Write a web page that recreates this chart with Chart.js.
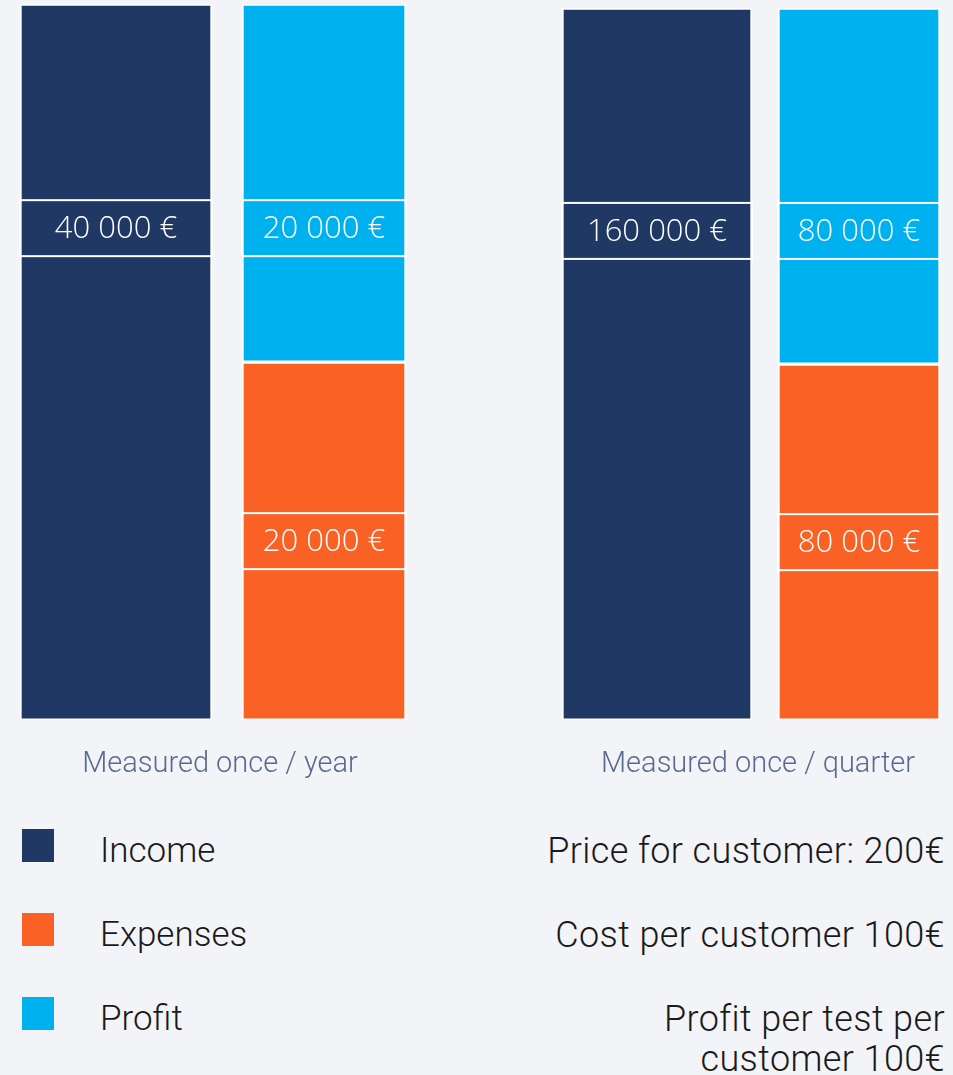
<!DOCTYPE html>
<html>
<head>
<meta charset="utf-8">
<script src="https://cdn.jsdelivr.net/npm/chart.js@4.4.1/dist/chart.umd.min.js"></script>
<style>
  html, body { margin: 0; padding: 0; }
  body { width: 953px; height: 1075px; background: #f2f4f8; position: relative; overflow: hidden;
         font-family: Roboto, sans-serif; font-weight: 300; color: #1a1a1a; }
  canvas { position: absolute; top: 0; }
  #chartYear { left: 0; }
  #chartQuarter { left: 540px; }
  .key { position: absolute; left: 22px; width: 32px; height: 33px; }
  .keyText { position: absolute; left: 100px; font-size: 35px; line-height: 40px; }
  .note { position: absolute; right: 8px; width: 420px; text-align: right; font-size: 36px; line-height: 40px; letter-spacing: 0.4px; }
</style>
</head>
<body>
<canvas id="chartYear" width="428" height="800"></canvas>
<canvas id="chartQuarter" width="420" height="800"></canvas>
<div id="legend"></div>

<script>
const groups = ['Measured once / year', 'Measured once / quarter'];
const seriesNames = ['Income', 'Expenses', 'Profit'];
const income = [40000, 160000];
const expenses = [20000, 80000];
const profit = [20000, 80000];
const notes = ['Price for customer: 200€', 'Cost per customer 100€', 'Profit per test per customer 100€'];

const colors = { Income: '#203864', Expenses: '#f96125', Profit: '#00b1f0' };

function euro(v) {
    return String(v).replace(/\B(?=(\d{3})+(?!\d))/g, ' ') + ' €';
}

// white framed value box on each bar segment
const valueBoxes = {
    id: 'valueBoxes',
    afterDatasetsDraw(chart) {
        const ctx = chart.ctx;
        const area = chart.chartArea;
        chart.data.datasets.forEach((ds, di) => {
            const meta = chart.getDatasetMeta(di);
            meta.data.forEach((bar, i) => {
                const v = ds.data[i];
                if (v == null) return;
                const p = bar.getProps(['x', 'y', 'base', 'width'], true);
                const cy = ds.labelSpot === 'mid'
                    ? (p.y + p.base) / 2
                    : area.top + ds.labelSpot * (area.bottom - area.top);
                const h = 56;
                ctx.save();
                ctx.strokeStyle = '#ffffff';
                ctx.lineWidth = 2;
                ctx.strokeRect(p.x - p.width / 2, cy - h / 2, p.width, h);
                ctx.translate(p.x, cy);
                ctx.scale(0.97, 1);
                ctx.fillStyle = '#ffffff';
                ctx.font = '300 32px "Open Sans"';
                ctx.textAlign = 'center';
                ctx.textBaseline = 'middle';
                ctx.fillText(euro(v), 0, 1);
                ctx.restore();
            });
        });
    }
};

function makeChart(id, g, widths, pad) {
    return new Chart(document.getElementById(id), {
        type: 'bar',
        data: {
            labels: ['Income', 'Expenses / Profit'],
            datasets: [{
                label: seriesNames[0],
                data: [income[g], null],
                backgroundColor: colors.Income,
                barThickness: widths[0],
                labelSpot: 0.313,
            }, {
                label: seriesNames[1],
                data: [null, expenses[g]],
                backgroundColor: colors.Expenses,
                barThickness: widths[1],
                labelSpot: 'mid',
            }, {
                label: seriesNames[2],
                data: [null, profit[g]],
                backgroundColor: colors.Profit,
                barThickness: widths[1],
                labelSpot: 0.313,
            }],
        },
        options: {
            responsive: false,
            animation: false,
            borderColor: '#ffffff',
            borderWidth: 2,
            borderSkipped: false,
            layout: { padding: pad },
            plugins: { legend: { display: false }, tooltip: { enabled: false } },
            scales: {
                x: {
                    stacked: true,
                    grid: { display: false, drawTicks: false },
                    border: { display: false },
                    ticks: { display: false },
                    title: {
                        display: true,
                        text: groups[g],
                        color: '#5a6a8f',
                        font: { family: 'Roboto', weight: 300, size: 29 },
                        padding: { top: 27, bottom: 18 },
                    },
                },
                y: {
                    stacked: true,
                    display: false,
                    min: 0,
                    max: income[g],
                },
            },
        },
        plugins: [valueBoxes],
    });
}

makeChart('chartYear', 0, [192, 164], { top: 4, left: 12 });
makeChart('chartQuarter', 1, [190, 162], { top: 8, left: 16 });

// legend and notes under the charts
const legend = document.getElementById('legend');
seriesNames.forEach((name, i) => {
    const top = 831 + i * 84;
    legend.insertAdjacentHTML('beforeend',
        '<div class="key" style="top:' + (top - 2) + 'px;background:' + colors[name] + '"></div>' +
        '<div class="keyText" style="top:' + top + 'px">' + name + '</div>' +
        '<div class="note" style="top:' + top + 'px">' + notes[i] + '</div>');
});
</script>
</body>
</html>
